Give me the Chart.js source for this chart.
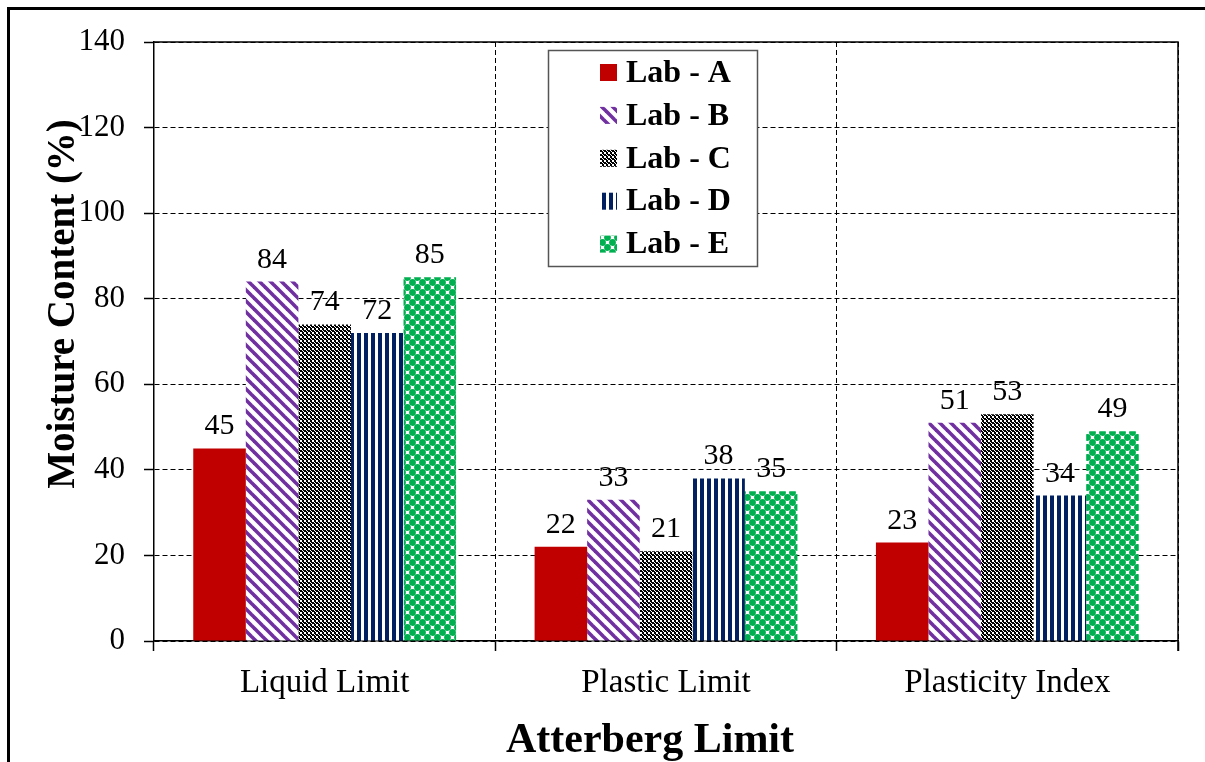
<!DOCTYPE html>
<html><head><meta charset="utf-8">
<script src="https://cdn.jsdelivr.net/npm/chart.js@4"></script>
<style>html,body{margin:0;padding:0;background:#fff;} canvas{display:block;}</style>
</head><body>
<canvas id="c" width="1205" height="762"></canvas>
<script>
const categories = ['Liquid Limit', 'Plastic Limit', 'Plasticity Index'];
const labNames = ['Lab - A', 'Lab - B', 'Lab - C', 'Lab - D', 'Lab - E'];
const labA = [45, 22, 23];
const labB = [84, 33, 51];
const labC = [74, 21, 53];
const labD = [72, 38, 34];
const labE = [85, 35, 49];
const yTicks = [0, 20, 40, 60, 80, 100, 120, 140];
const yTitle = 'Moisture Content (%)';
const xTitle = 'Atterberg Limit';

const SERIF = "'Liberation Serif', 'Times New Roman', serif";
const canvas = document.getElementById('c');
const mainCtx = canvas.getContext('2d');

function mk(w, h, draw) {
  const c = document.createElement('canvas');
  c.width = w; c.height = h;
  const g = c.getContext('2d');
  draw(g, w, h);
  return mainCtx.createPattern(c, 'repeat');
}
const patA = '#C00000';
const patB = mk(11, 11, (g, w, h) => {
  g.fillStyle = '#fff'; g.fillRect(0, 0, w, h);
  g.strokeStyle = '#7030A0'; g.lineWidth = 3.6;
  for (const o of [-w, 0, w]) { g.beginPath(); g.moveTo(o - 2, -2); g.lineTo(o + w + 2, h + 2); g.stroke(); }
});
const patC = mk(4, 4, (g) => {
  g.fillStyle = '#000'; g.fillRect(0, 0, 4, 4);
  g.fillStyle = '#fff'; g.fillRect(0, 0, 2, 2); g.fillRect(2, 2, 1, 1); g.fillRect(3, 3, 1, 1);
});
const patD = mk(7, 1, (g) => {
  g.fillStyle = '#fff'; g.fillRect(0, 0, 7, 1);
  g.fillStyle = '#002060'; g.fillRect(0, 0, 4, 1);
});
const patE = mk(10, 10, (g) => {
  g.fillStyle = '#fff'; g.fillRect(0, 0, 10, 10);
  g.fillStyle = '#00B050';
  for (const [cx, cy] of [[2.5, 2.5], [7.5, 7.5]]) {
    for (const dx of [-10, 0, 10]) for (const dy of [-10, 0, 10]) {
      g.beginPath(); g.arc(cx + dx, cy + dy, 3.4, 0, Math.PI * 2); g.fill();
    }
  }
});

const fills = [patA, patB, patC, patD, patE];
const series = [labA, labB, labC, labD, labE];

const decor = {
  id: 'decor',
  beforeDraw(chart) {
    const ctx = chart.ctx;
    ctx.save();
    ctx.fillStyle = '#fff'; ctx.fillRect(0, 0, chart.width, chart.height);
    ctx.strokeStyle = '#000'; ctx.lineWidth = 3;
    ctx.beginPath(); ctx.moveTo(8.5, 1205); ctx.lineTo(8.5, 8.5); ctx.lineTo(1205, 8.5); ctx.stroke();
    ctx.restore();
  },
  afterDatasetsDraw(chart) {
    const ctx = chart.ctx;
    ctx.save();
    ctx.fillStyle = '#000';
    ctx.font = '30px ' + SERIF;
    ctx.textAlign = 'center';
    ctx.textBaseline = 'alphabetic';
    chart.data.datasets.forEach((ds, i) => {
      const meta = chart.getDatasetMeta(i);
      meta.data.forEach((bar, j) => {
        ctx.fillText(String(ds.data[j]), bar.x, bar.y - 14);
      });
    });
    ctx.restore();
  },
  afterDraw(chart) {
    const ctx = chart.ctx;
    const a = chart.chartArea;
    ctx.save();
    ctx.strokeStyle = '#000'; ctx.lineWidth = 1.5;
    ctx.beginPath(); ctx.moveTo(a.left, a.top); ctx.lineTo(a.right, a.top); ctx.lineTo(a.right, a.bottom + 10); ctx.stroke();
    const lx = 548, ly = 50, lw = 209, lh = 216;
    ctx.fillStyle = '#fff'; ctx.fillRect(lx, ly, lw, lh);
    ctx.strokeStyle = '#555'; ctx.lineWidth = 1.5;
    ctx.strokeRect(lx + 0.5, ly + 0.5, lw, lh);
    ctx.font = 'bold 32px ' + SERIF;
    ctx.textAlign = 'left'; ctx.textBaseline = 'middle';
    chart.data.datasets.forEach((ds, i) => {
      const cy = 72.5 + i * 42.9;
      ctx.fillStyle = ds.backgroundColor;
      ctx.fillRect(600, cy - 8.5, 17, 17);
      ctx.fillStyle = '#000';
      ctx.fillText(ds.label, 626, cy + 1);
    });
    ctx.fillStyle = '#000';
    ctx.font = 'bold 42px ' + SERIF;
    ctx.textAlign = 'center'; ctx.textBaseline = 'alphabetic';
    ctx.fillText(xTitle, 650, 752);
    ctx.save();
    ctx.translate(74, 304);
    ctx.rotate(-Math.PI / 2);
    ctx.font = 'bold 39px ' + SERIF;
    ctx.fillText(yTitle, 0, 0);
    ctx.restore();
    ctx.restore();
  }
};

new Chart(canvas, {
  type: 'bar',
  data: {
    labels: categories,
    datasets: labNames.map((n, i) => ({
      label: n,
      data: series[i],
      backgroundColor: fills[i],
      borderWidth: 0,
      categoryPercentage: 0.77,
      barPercentage: 1.0
    }))
  },
  options: {
    responsive: false,
    animation: false,
    events: [],
    layout: { padding: { top: 42, right: 27, left: 0, bottom: 0 } },
    plugins: { legend: { display: false }, tooltip: { enabled: false }, title: { display: false } },
    scales: {
      x: {
        afterFit(s) { s.height = 121; },
        grid: { color: '#000', lineWidth: 1, offset: true, drawTicks: true, tickLength: 10, tickColor: '#000', tickWidth: 1.5, tickBorderDash: [] },
        border: { display: true, color: '#000', width: 1.5, dash: [5, 3] },
        ticks: { color: '#000', font: { family: SERIF, size: 33 }, padding: 13, maxRotation: 0 }
      },
      y: {
        min: 0, max: 140,
        afterFit(s) { s.width = 154; },
        afterBuildTicks(s) { s.ticks = yTicks.map(v => ({ value: v })); },
        grid: { color: '#000', lineWidth: 1, drawTicks: true, tickLength: 10, tickColor: '#000', tickWidth: 1.5, tickBorderDash: [] },
        border: { display: true, color: '#000', width: 1.5, dash: [5, 3] },
        ticks: { color: '#000', font: { family: SERIF, size: 31 }, padding: 19 }
      }
    }
  },
  plugins: [decor]
});
</script>
</body></html>
